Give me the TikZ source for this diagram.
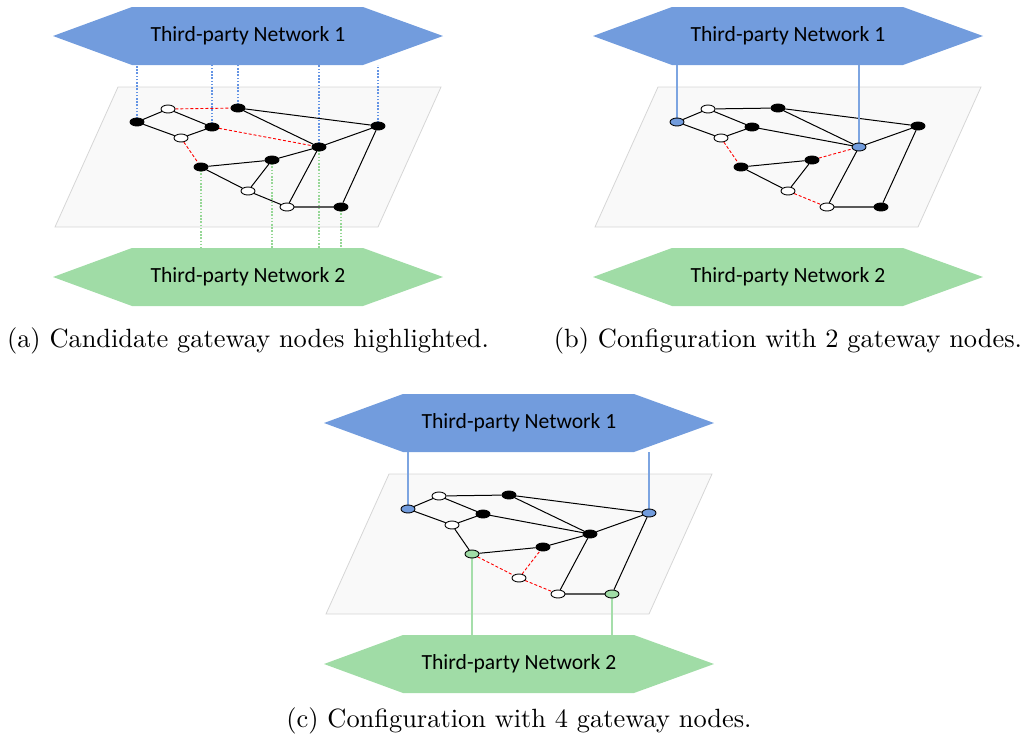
\documentclass[tikz,border=0pt]{standalone}
\usepackage{fontspec}
\newfontfamily\labelfont{Carlito}
\usetikzlibrary{shapes.geometric}
\pgfdeclarelayer{plane}
\pgfdeclarelayer{links}
\pgfsetlayers{plane,links,main}

\definecolor{netblue}{RGB}{114,156,221}
\definecolor{netgreen}{RGB}{160,220,166}
\definecolor{planefill}{RGB}{249,249,249}
\definecolor{planeline}{RGB}{214,214,214}
\definecolor{dotblue}{RGB}{100,148,228}
\definecolor{dotgreen}{RGB}{150,215,150}
\definecolor{gwblue}{RGB}{125,165,225}
\definecolor{gwgreen}{RGB}{165,222,170}

\tikzset{
  vtx/.style={ellipse,draw=black,line width=0.9pt,minimum width=14pt,
    minimum height=8pt,inner sep=0pt},
  vb/.style={vtx,fill=black},
  vo/.style={vtx,fill=white},
  vbl/.style={vtx,fill=netblue},
  vgr/.style={vtx,fill=netgreen},
  edge/.style={line width=1pt,black},
  weak/.style={line width=1.3pt,black!65},
  alt/.style={line width=0.9pt,red,dash pattern=on 3pt off 2pt},
  bluedots/.style={line width=1.8pt,dotblue,dash pattern=on 1.6pt off 1.6pt},
  greendots/.style={line width=1.8pt,dotgreen,dash pattern=on 1.6pt off 1.6pt},
  bluelink/.style={line width=2pt,gwblue},
  greenlink/.style={line width=2pt,gwgreen},
  netlabel/.style={minimum width=390pt,minimum height=58pt,inner sep=0pt,
    font=\labelfont\fontsize{21.6}{26}\selectfont},
  caption/.style={anchor=base,scale=2.64,font=\fontsize{10}{12}\selectfont},
  backdrop/.style={fill=planefill,draw=planeline,line width=0.8pt}
}

% plane and the two external networks of one panel
\newcommand\panelbase[1]{%
  \begin{pgfonlayer}{plane}
    \path[backdrop] (118,87) -- (441,87) -- (378,227) -- (55,227) -- cycle;
    \fill[netblue] (53,36) -- (132,7) -- (363,7) -- (443,36) -- (363,65) -- (132,65) -- cycle;
    \fill[netgreen] (53,277) -- (132,248) -- (363,248) -- (443,277) -- (363,306) -- (132,306) -- cycle;
  \end{pgfonlayer}
  \node[netlabel] (#1up) at (248,36) {Third-party Network 1};
  \node[netlabel] (#1down) at (248,277) {Third-party Network 2};
}

\begin{document}
\begin{tikzpicture}[x=1pt,y=-1pt]
\useasboundingbox (0,0) rectangle (1026,742);

% ---------------- (a) candidate gateways ----------------
\begin{scope}
  \panelbase{a}
  \foreach \n/\x/\y/\s in {1/137/122/vb,2/168/109/vo,3/238/108/vb,4/212/127/vb,
      5/181/138/vo,6/319/147/vb,7/378/126/vb,8/201/167/vb,9/272/160/vb,
      10/248/191/vo,11/287/207/vo,12/341/207/vb}
    \node[\s] (a\n) at (\x,\y) {};
  \begin{pgfonlayer}{links}
    \foreach \u/\v in {1/2,1/5,2/4,5/4,3/7,3/6,6/7,8/9,11/6,12/7,6/9,8/10,10/9,10/11}
      \draw[edge] (a\u) -- (a\v);
    \draw[weak] (a11) -- (a12);
    \foreach \u/\v in {2/3,4/6,5/8}
      \draw[alt] (a\u) -- (a\v);
    \foreach \u in {1,3,4,6,7}
      \draw[bluedots] (a\u.center) -- (a\u |- aup.south);
    \foreach \u in {6,8,9,12}
      \draw[greendots] (a\u.center) -- (a\u |- adown.north);
  \end{pgfonlayer}
  \node[caption] (capa) at (248,347) {(a) Candidate gateway nodes highlighted.};
\end{scope}

% ---------------- (b) two gateways ----------------
\begin{scope}[shift={(540,0)}]
  \panelbase{b}
  \foreach \n/\x/\y/\s in {1/137/122/vbl,2/168/109/vo,3/238/108/vb,4/212/127/vb,
      5/181/138/vo,6/319/147/vbl,7/378/126/vb,8/201/167/vb,9/272/160/vb,
      10/248/191/vo,11/287/207/vo,12/341/207/vb}
    \node[\s] (b\n) at (\x,\y) {};
  \begin{pgfonlayer}{links}
    \foreach \u/\v in {1/2,1/5,2/4,5/4,3/7,3/6,6/7,8/9,11/6,12/7,2/3,4/6,8/10,10/9}
      \draw[edge] (b\u) -- (b\v);
    \draw[weak] (b11) -- (b12);
    \foreach \u/\v in {5/8,9/6,10/11}
      \draw[alt] (b\u) -- (b\v);
    \foreach \u in {1,6}
      \draw[bluelink] (b\u.center) -- (b\u |- bup.south);
  \end{pgfonlayer}
  \node[caption] (capb) at (248,347) {(b) Configuration with 2 gateway nodes.};
\end{scope}

% ---------------- (c) four gateways ----------------
\begin{scope}[shift={(271,387)}]
  \panelbase{c}
  \foreach \n/\x/\y/\s in {1/137/122/vbl,2/168/109/vo,3/238/108/vb,4/212/127/vb,
      5/181/138/vo,6/319/147/vb,7/378/126/vbl,8/201/167/vgr,9/272/160/vb,
      10/248/191/vo,11/287/207/vo,12/341/207/vgr}
    \node[\s] (c\n) at (\x,\y) {};
  \begin{pgfonlayer}{links}
    \foreach \u/\v in {1/2,1/5,2/4,5/4,3/7,3/6,6/7,8/9,11/6,12/7,2/3,4/6,5/8,9/6}
      \draw[edge] (c\u) -- (c\v);
    \draw[weak] (c11) -- (c12);
    \foreach \u/\v in {8/10,10/9,10/11}
      \draw[alt] (c\u) -- (c\v);
    \foreach \u in {1,7}
      \draw[bluelink] (c\u.center) -- (c\u |- cup.south);
    \foreach \u in {8,12}
      \draw[greenlink] (c\u.center) -- (c\u |- cdown.north);
  \end{pgfonlayer}
  \node[caption] (capc) at (248,340) {(c) Configuration with 4 gateway nodes.};
\end{scope}
\end{tikzpicture}
\end{document}
